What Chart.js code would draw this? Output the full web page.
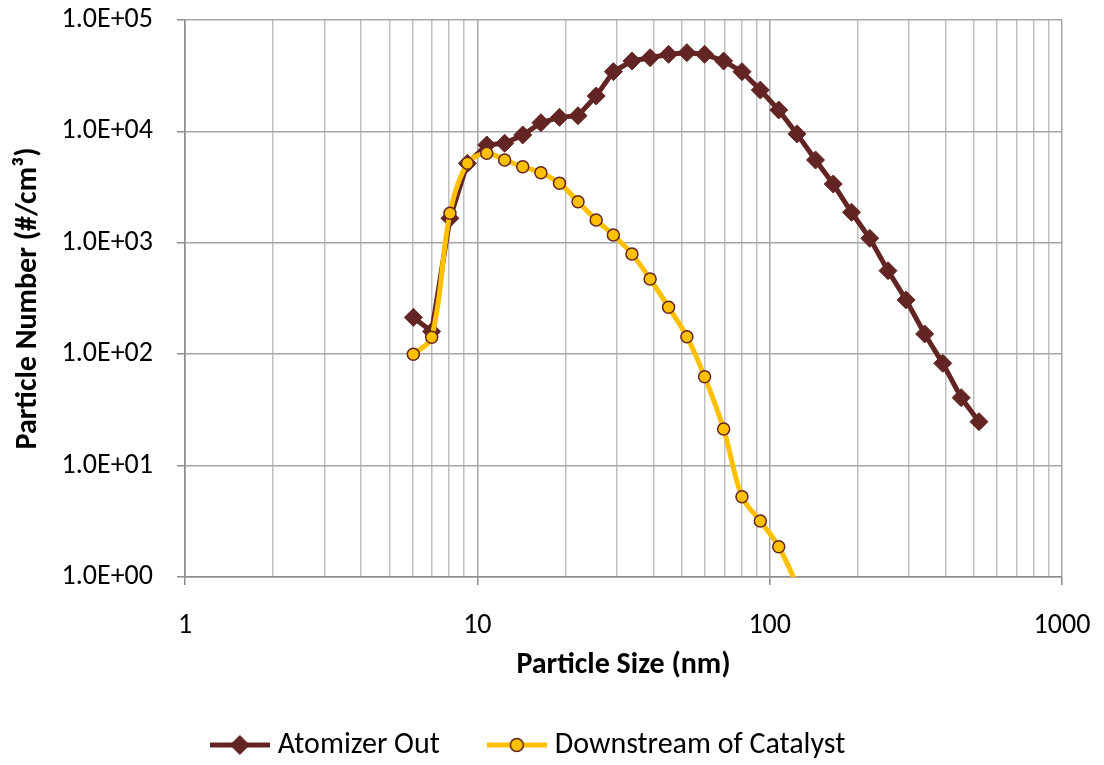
<!DOCTYPE html>
<html>
<head>
<meta charset="utf-8">
<script src="https://cdn.jsdelivr.net/npm/chart.js@4.4.1/dist/chart.umd.min.js"></script>
<style>
  html, body { margin: 0; padding: 0; background: #fff; }
  #wrap { width: 1104px; height: 765px; }
</style>
</head>
<body>
<div id="wrap"><canvas id="chart" width="1104" height="765"></canvas></div>
<script>
// particle size bins (nm)
const sizes = [6.04, 6.98, 8.06, 9.25, 10.77, 12.4, 14.3, 16.5, 19.1, 22.1, 25.5, 29.2, 33.8, 39.0, 45.1, 52.1,
  59.9, 69.6, 80.4, 92.9, 107.4, 124, 143.5, 165, 190.5, 220, 254, 293, 339, 391, 452, 520];

// #/cm3
const atomizerOut = [214, 160, 1660, 5170, 7550, 7820, 9290, 11970, 13370, 13830, 20800, 34400, 42850, 45900, 49200, 50900,
  49200, 42850, 34400, 23500, 15560, 9500, 5540, 3370, 1880, 1097, 562, 307, 152, 82.8, 40.7, 24.8];
const downstream = [100, 142, 1840, 5170, 6360, 5540, 4820, 4260, 3420, 2340, 1600, 1175, 793, 473, 264, 143.6,
  62.8, 21.3, 5.26, 3.18, 1.87, 0.85];

const seriesNames = ['Atomizer Out', 'Downstream of Catalyst'];
const xDecades = [1, 10, 100, 1000];
const yDecades = [1, 10, 100, 1000, 10000, 100000];

const MAROON = '#632523';
const GOLD = '#FFC000';
const FONT = "Carlito, Lato, 'Open Sans', sans-serif";
const FS = 28;
const TS = 30;

// 1,2,..9,10,20,...1000 for the minor grid
let xTicks = [];
xDecades.forEach((d, i) => {
    if (i < xDecades.length - 1) {
        for (let k = 1; k < 10; k++) xTicks.push(d * k);
    } else {
        xTicks.push(d);
    }
});

function isDecade(v) {
    const l = Math.log10(v);
    return Math.abs(l - Math.round(l)) < 1e-9;
}

function sciLabel(v) {
    const e = Math.round(Math.log10(v));
    return '1.0E+' + String(e).padStart(2, '0');
}

function legendIcon(kind) {
    const c = document.createElement('canvas');
    c.width = 60;
    c.height = 24;
    const g = c.getContext('2d');
    g.lineWidth = 5;
    g.strokeStyle = kind === 'diamond' ? MAROON : GOLD;
    g.beginPath();
    g.moveTo(0, 12);
    g.lineTo(60, 12);
    g.stroke();
    if (kind === 'diamond') {
        g.fillStyle = MAROON;
        g.beginPath();
        g.moveTo(30, 2);
        g.lineTo(40, 12);
        g.lineTo(30, 22);
        g.lineTo(20, 12);
        g.closePath();
        g.fill();
    } else {
        g.fillStyle = GOLD;
        g.strokeStyle = MAROON;
        g.lineWidth = 1.5;
        g.beginPath();
        g.arc(30, 12, 6.5, 0, Math.PI * 2);
        g.fill();
        g.stroke();
    }
    return c;
}

const icons = [legendIcon('diamond'), legendIcon('circle')];

let ctx = document.getElementById('chart').getContext('2d');

new Chart(ctx, {
    type: 'line',
    data: {
        datasets: [{
            label: seriesNames[0],
            data: atomizerOut.map((v, i) => ({ x: sizes[i], y: v })),
            borderColor: MAROON,
            backgroundColor: MAROON,
            borderWidth: 5,
            pointStyle: 'rectRot',
            pointRadius: 9,
            pointBorderWidth: 1,
            pointBorderColor: MAROON,
            pointBackgroundColor: MAROON,
            tension: 0,
            order: 2
        }, {
            label: seriesNames[1],
            data: downstream.map((v, i) => ({ x: sizes[i], y: v })),
            borderColor: GOLD,
            backgroundColor: GOLD,
            borderWidth: 5,
            pointStyle: 'circle',
            pointRadius: downstream.map(v => v < 1 ? 0 : 6),
            pointBorderWidth: 1.5,
            pointBorderColor: MAROON,
            pointBackgroundColor: GOLD,
            tension: 0.35,
            clip: 0,
            order: 1
        }]
    },
    options: {
        responsive: false,
        animation: false,
        devicePixelRatio: 1,
        layout: { padding: { left: 0, right: 42, top: 20, bottom: -5 } },
        plugins: {
            tooltip: { enabled: false },
            legend: {
                position: 'bottom',
                labels: {
                    usePointStyle: true,
                    pointStyleWidth: 46,
                    boxHeight: TS,
                    padding: 54,
                    color: '#000',
                    font: { family: FONT, size: TS },
                    sort: (a, b) => a.datasetIndex - b.datasetIndex,
                    generateLabels: (chart) => chart.data.datasets.map((ds, i) => ({
                        text: ds.label,
                        datasetIndex: i,
                        pointStyle: icons[i],
                        fillStyle: ds.backgroundColor,
                        strokeStyle: ds.borderColor,
                        lineWidth: 0,
                        fontColor: '#000',
                        hidden: false
                    }))
                }
            }
        },
        scales: {
            x: {
                type: 'logarithmic',
                min: 1,
                max: 1000,
                afterBuildTicks: (scale) => { scale.ticks = xTicks.map(v => ({ value: v })); },
                afterFit: (scale) => {
                    scale.height = 99;
                    scale.paddingLeft = 0;
                    scale.paddingRight = 0;
                },
                border: { color: '#8c8c8c', width: 1.5 },
                grid: {
                    lineWidth: 1.5,
                    tickLength: 8,
                    color: (c) => c.tick && isDecade(c.tick.value) ? '#a6a6a6' : '#c0c0c0',
                    tickColor: (c) => c.tick && isDecade(c.tick.value) ? '#8c8c8c' : 'rgba(0,0,0,0)'
                },
                ticks: {
                    autoSkip: false,
                    maxRotation: 0,
                    padding: 24,
                    color: '#000',
                    font: { family: FONT, size: FS },
                    callback: (v) => isDecade(v) ? String(v) : ''
                },
                title: {
                    display: true,
                    text: 'Particle Size (nm)',
                    color: '#000',
                    font: { family: FONT, size: TS, weight: 'bold' },
                    padding: { top: 0, bottom: -7 }
                }
            },
            y: {
                type: 'logarithmic',
                min: 1,
                max: 100000,
                afterBuildTicks: (scale) => { scale.ticks = yDecades.map(v => ({ value: v })); },
                afterFit: (scale) => {
                    scale.width = 185;
                    scale.paddingTop = 0;
                    scale.paddingBottom = 0;
                },
                border: { color: '#8c8c8c', width: 1.5 },
                grid: {
                    lineWidth: 1.5,
                    tickLength: 8,
                    color: '#a6a6a6',
                    tickColor: '#8c8c8c'
                },
                ticks: {
                    padding: 24,
                    color: '#000',
                    font: { family: FONT, size: FS },
                    callback: (v) => sciLabel(v)
                },
                title: {
                    display: true,
                    text: 'Particle Number (#/cm³)',
                    color: '#000',
                    font: { family: FONT, size: TS, weight: 'bold' },
                    padding: { top: 10, bottom: 0 }
                }
            }
        }
    }
});
</script>
</body>
</html>
